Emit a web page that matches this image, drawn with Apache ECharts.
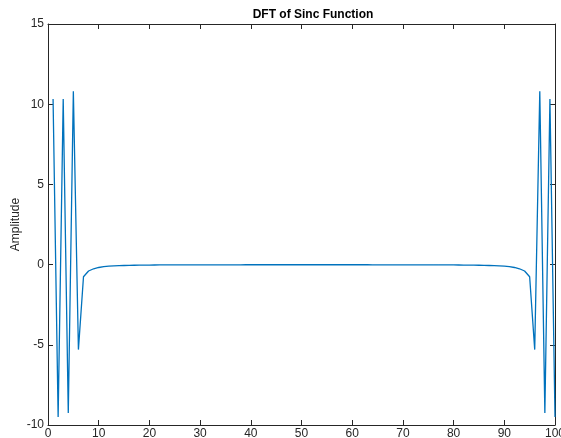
<!DOCTYPE html>
<html>
<head>
<meta charset="utf-8">
<script src="https://cdn.jsdelivr.net/npm/echarts@6/dist/echarts.min.js"></script>
<style>
html,body{margin:0;padding:0;background:#fff;overflow:hidden;}
#c{width:561px;height:438px;}
</style>
</head>
<body>
<div id="c"></div>
<script>
// Sample index k = 1..100
var titleText = 'DFT of Sinc Function';
var yName = 'Amplitude';
var xTicks = [0, 10, 20, 30, 40, 50, 60, 70, 80, 90, 100];
var yTicks = [-10, -5, 0, 5, 10, 15];
var amplitude = [
  10.33, -9.5, 10.33, -9.25, 10.8, -5.3, -0.76, -0.40, -0.26, -0.18,
  -0.13, -0.10, -0.08, -0.065, -0.055, -0.046, -0.04, -0.035, -0.031, -0.028,
  -0.025, -0.023, -0.021, -0.019, -0.018, -0.017, -0.016, -0.015, -0.014, -0.013,
  -0.013, -0.012, -0.012, -0.012, -0.011, -0.011, -0.011, -0.011, -0.010, -0.010,
  -0.010, -0.010, -0.010, -0.010, -0.010, -0.010, -0.010, -0.010, -0.010, -0.010,
  -0.010,
  -0.010, -0.010, -0.010, -0.010, -0.010, -0.010, -0.010, -0.010, -0.010, -0.010,
  -0.010, -0.010, -0.011, -0.011, -0.011, -0.011, -0.012, -0.012, -0.012, -0.013,
  -0.013, -0.014, -0.015, -0.016, -0.017, -0.018, -0.019, -0.021, -0.023, -0.025,
  -0.028, -0.031, -0.035, -0.04, -0.046, -0.055, -0.065, -0.08, -0.10, -0.13,
  -0.18, -0.26, -0.40, -0.76,
  -5.3, 10.8, -9.25, 10.33, -9.5
];

var pts = amplitude.map(function (v, i) { return [i + 1, v]; });
var axisColor = '#262626';
var font = '"Liberation Sans", Arial, Helvetica, sans-serif';

function xAx(pos, showLabel) {
  return {
    type: 'value', position: pos, min: xTicks[0], max: xTicks[xTicks.length - 1],
    interval: xTicks[1] - xTicks[0],
    axisLine: { show: true, onZero: false, lineStyle: { color: axisColor, width: 1 } },
    axisTick: { show: true, inside: true, length: 5, lineStyle: { color: axisColor } },
    axisLabel: { show: showLabel, margin: 3, color: axisColor, fontSize: 12, fontFamily: font, showMaxLabel: true, showMinLabel: true, hideOverlap: false },
    splitLine: { show: false }
  };
}
function yAx(pos, showLabel) {
  return {
    type: 'value', position: pos, min: yTicks[0], max: yTicks[yTicks.length - 1],
    interval: yTicks[1] - yTicks[0],
    axisLine: { show: true, onZero: false, lineStyle: { color: axisColor, width: 1 } },
    axisTick: { show: true, inside: true, length: 5, lineStyle: { color: axisColor } },
    axisLabel: { show: showLabel, margin: 4, color: axisColor, fontSize: 12, fontFamily: font, showMaxLabel: true, showMinLabel: true },
    splitLine: { show: false }
  };
}

var y0 = yAx('left', true);
y0.name = yName;
y0.nameLocation = 'middle';
y0.nameGap = 26;
y0.nameMoveOverlap = false;
y0.nameTextStyle = { color: axisColor, fontSize: 12, fontFamily: font };

var chart = echarts.init(document.getElementById('c'), null, { renderer: 'canvas', width: 561, height: 438 });
chart.setOption({
  animation: false,
  backgroundColor: '#ffffff',
  title: {
    text: titleText, left: 308, top: 4, textAlign: 'center',
    textStyle: { fontSize: 12, fontWeight: 'bold', color: '#000', fontFamily: font }
  },
  grid: { left: 48, top: 24, width: 507, height: 401, containLabel: false, outerBoundsMode: 'none' },
  xAxis: [xAx('bottom', true), xAx('top', false)],
  yAxis: [y0, yAx('right', false)],
  series: [{
    type: 'line', data: pts, xAxisIndex: 0, yAxisIndex: 0,
    showSymbol: false, symbol: 'none',
    lineStyle: { color: '#0072BD', width: 1.3 },
    clip: true
  }]
});
</script>
</body>
</html>
